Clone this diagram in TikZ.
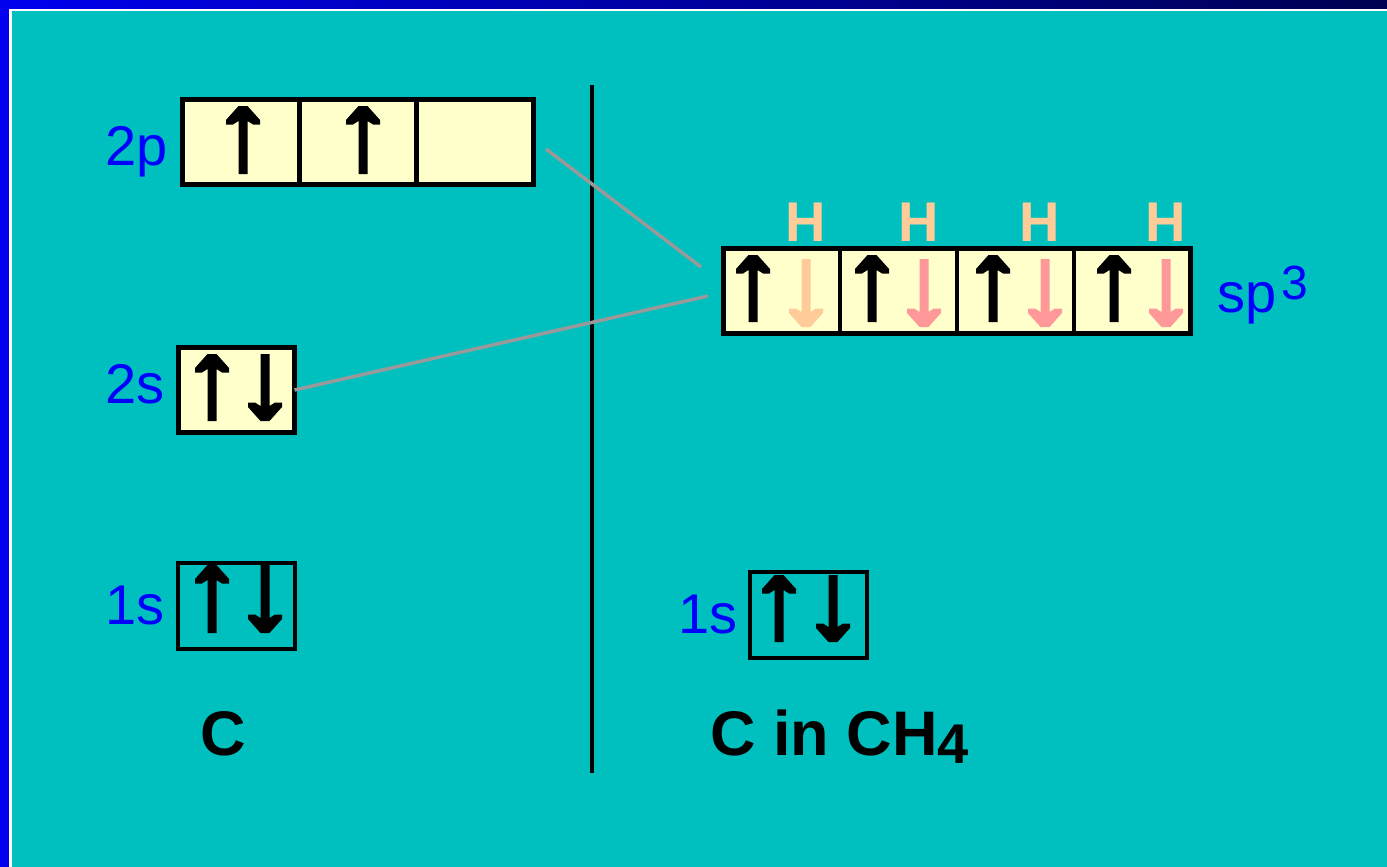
\documentclass[tikz,border=0pt]{standalone}
\usepackage{fontspec}
\setmainfont{Liberation Sans}
\definecolor{teal0}{RGB}{0,191,191}
\definecolor{lyel}{RGB}{255,255,204}
\definecolor{lblue}{RGB}{0,0,255}
\definecolor{peach}{RGB}{255,204,153}
\definecolor{pinkd}{RGB}{255,153,153}
\definecolor{greyl}{RGB}{153,153,153}
\definecolor{bandl}{RGB}{0,0,238}
\definecolor{bandr}{RGB}{0,0,80}
\newcommand{\spinup}[4]{\fill[#1] ({#2-4.5},#4) -- ({#2-4.5},{#3+15}) -- ({#2-10},{#3+18.5}) -- ({#2-17},{#3+18.5}) -- ({#2-17},{#3+14}) -- ({#2-4.5},#3) -- ({#2+4.5},#3) -- ({#2+17},{#3+14}) -- ({#2+17},{#3+18.5}) -- ({#2+10},{#3+18.5}) -- ({#2+4.5},{#3+15}) -- ({#2+4.5},#4) -- cycle;}
\newcommand{\spindown}[4]{\fill[#1] ({#2-4.5},#3) -- ({#2-4.5},{#4-15}) -- ({#2-10},{#4-18.5}) -- ({#2-17},{#4-18.5}) -- ({#2-17},{#4-14}) -- ({#2-4.5},#4) -- ({#2+4.5},#4) -- ({#2+17},{#4-14}) -- ({#2+17},{#4-18.5}) -- ({#2+10},{#4-18.5}) -- ({#2+4.5},{#4-15}) -- ({#2+4.5},#3) -- cycle;}
\tikzset{
  orb/.style={draw=black, line width=4.5pt, fill=lyel, inner sep=0pt, outer sep=0pt},
  orbcore/.style={draw=black, line width=4pt, inner sep=0pt, outer sep=0pt},
  olabel/.style={text=lblue, font=\fontsize{56}{60}\selectfont, inner sep=0pt, anchor=base west},
  hlabel/.style={text=peach, font=\fontsize{56}{60}\selectfont\bfseries, inner sep=0pt, anchor=base},
  clabel/.style={text=black, font=\fontsize{63}{68}\selectfont\bfseries, inner sep=0pt, anchor=base west},
  mixline/.style={draw=greyl, line width=3.5pt},
  divider/.style={draw=black, line width=4.5pt}
}
\begin{document}
\begin{tikzpicture}[x=1pt,y=-1pt]
\useasboundingbox (0,0) rectangle (1387,867);
% background and frame
\fill[teal0] (0,0) rectangle (1387,867);
\shade[left color=bandl, right color=bandr] (0,0) rectangle (1387,9);
\fill[bandl] (0,0) rectangle (9,867);
\fill[white] (9,9) rectangle (1387,11.5);
\fill[white] (9,9) rectangle (11.5,867);
% separator
\draw[line width=4pt] (592,85) -- (592,773);
% boxes
\node[orb, minimum width=351pt, minimum height=85pt] (p2) at (358,142) {};
\draw[divider] (299.5,99.5) -- (299.5,184.5);
\draw[divider] (416.5,99.5) -- (416.5,184.5);
\node[orb, minimum width=116pt, minimum height=85pt] (s2) at (236.5,390) {};
\node[orbcore, minimum width=117pt, minimum height=86pt] (s1) at (236.5,606) {};
\node[orbcore, minimum width=117pt, minimum height=86pt] (s1r) at (808.5,615) {};
\node[orb, minimum width=467pt, minimum height=85pt] (sp) at (957,291) {};
\draw[divider] (840,248.5) -- (840,333.5);
\draw[divider] (957,248.5) -- (957,333.5);
\draw[divider] (1074,248.5) -- (1074,333.5);
% mixing lines
\coordinate (pA) at (546,149);
\coordinate (spA) at (701,267);
\coordinate (spB) at (708,296);
\draw[mixline] (pA) -- (spA);
\draw[mixline] (s2.east) -- (spB);
% spins
\spinup{black}{243}{106}{174}
\spinup{black}{363}{106}{174}
\spinup{black}{212}{354}{421}
\spindown{black}{265}{354}{421}
\spinup{black}{212}{565}{633}
\spindown{black}{265}{565}{633}
\spinup{black}{779}{575}{642}
\spindown{black}{833}{575}{642}
\spinup{black}{753}{255}{322}
\spindown{peach}{806}{259}{327}
\spinup{black}{872}{255}{322}
\spindown{pinkd}{924}{259}{327}
\spinup{black}{993}{255}{322}
\spindown{pinkd}{1045}{259}{327}
\spinup{black}{1114}{255}{322}
\spindown{pinkd}{1166}{259}{327}
% labels
\node[olabel] (l2p) at (105,165) {2p};
\node[olabel] (l2s) at (105,403) {2s};
\node[olabel] (l1s) at (105,624) {1s};
\node[olabel] (l1sr) at (678,633) {1s};
\node[olabel] (lsp) at (1217,312) {sp\hspace{5pt}\raisebox{13pt}{\fontsize{48}{50}\selectfont 3}};
\node[hlabel] (h1) at (806,241) {H};
\node[hlabel] (h2) at (919,241) {H};
\node[hlabel] (h3) at (1040,241) {H};
\node[hlabel] (h4) at (1166,241) {H};
\node[clabel] (cA) at (200,755) {C};
\node[clabel] (cB) at (710,755) {C in CH\raisebox{-8pt}{\fontsize{56}{60}\selectfont 4}};
\end{tikzpicture}
\end{document}
